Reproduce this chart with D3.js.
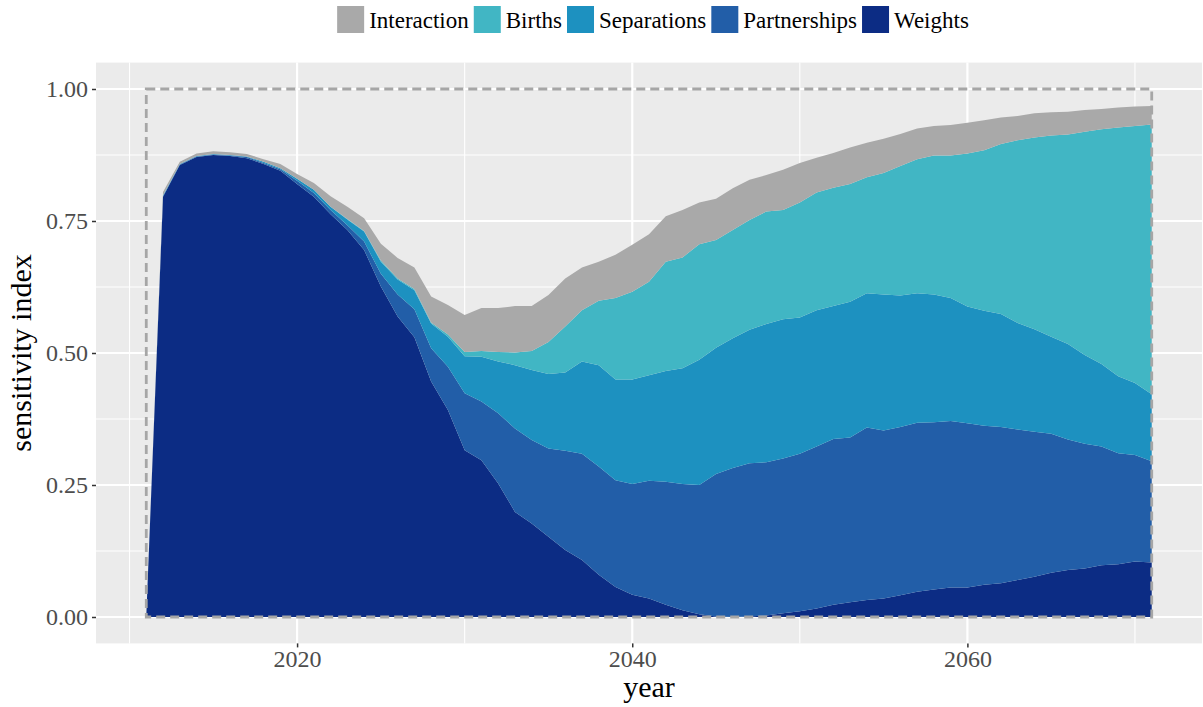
<!DOCTYPE html>
<html>
<head>
<meta charset="utf-8">
<script src="https://cdn.jsdelivr.net/npm/d3@7"></script>
<style>
  body { margin: 0; background: #fff; }
  text { font-family: "Liberation Serif", "Times New Roman", serif; }
</style>
</head>
<body>
<svg width="1203" height="707"></svg>
<script>
// years 2011..2071, one value per year and per component
const years = d3.range(2011, 2072);

const weights = [0, .796, .856, .871, .875, .873, .869, .858, .845, .820,
  .796, .763, .733, .695, .626, .569, .530, .446, .392, .316,
  .297, .253, .199, .177, .152, .127, .108, .080, .057, .042,
  .035, .023, .013, .005, .001, .000, .001, .003, .007, .011,
  .016, .023, .028, .032, .035, .041, .048, .052, .056, .056,
  .061, .064, .070, .076, .084, .089, .092, .098, .100, .105, .103];

const partnerships = [0, .001, .001, .001, .001, .001, .002, .002, .003, .006,
  .007, .008, .009, .016, .024, .042, .053, .063, .082, .108,
  .111, .133, .158, .158, .167, .188, .201, .205, .202, .210,
  .223, .233, .239, .245, .270, .282, .290, .290, .293, .298,
  .307, .314, .312, .327, .318, .319, .320, .317, .315, .311,
  .301, .296, .285, .275, .263, .247, .236, .225, .210, .202, .192];

const separations = [0, .001, .001, .001, .001, .001, .001, .002, .002, .004,
  .006, .006, .011, .019, .023, .028, .036, .047, .057, .070,
  .085, .098, .120, .133, .141, .148, .175, .192, .191, .198,
  .200, .210, .219, .237, .239, .246, .253, .262, .264, .258,
  .258, .252, .257, .254, .258, .249, .245, .242, .233, .221,
  .218, .214, .202, .194, .184, .181, .168, .156, .146, .136, .127];

const births = [0, .001, 0, 0, 0, 0, 0, 0, 0, 0,
  0, 0, .001, .001, .002, .002, .002, .002, .004, .008,
  .011, .018, .024, .036, .061, .087, .097, .122, .154, .166,
  .177, .207, .210, .219, .204, .205, .208, .213, .207, .218,
  .223, .224, .223, .220, .230, .245, .254, .263, .270, .290,
  .304, .322, .346, .363, .381, .397, .423, .445, .471, .487, .511];

const interaction = [0, .006, .004, .005, .005, .005, .005, .005, .008, .009,
  .013, .020, .023, .024, .032, .039, .041, .049, .056, .070,
  .081, .083, .088, .085, .089, .091, .081, .074, .082, .089,
  .090, .086, .090, .079, .078, .079, .076, .069, .076, .075,
  .066, .066, .069, .065, .065, .061, .058, .056, .058, .058,
  .057, .050, .046, .046, .044, .043, .041, .038, .038, .037, .035];

const legendLabels = ["Interaction", "Births", "Separations", "Partnerships", "Weights"];
const colors = ["#A9A9A9", "#41B6C4", "#1D91C0", "#225EA8", "#0C2C84"];
const yTicks = [0, 0.25, 0.5, 0.75, 1];
const xTicks = [2020, 2040, 2060];

// table for d3.stack (bottom layer first)
const table = years.map((yr, i) => ({
  year: yr,
  Weights: weights[i],
  Partnerships: partnerships[i],
  Separations: separations[i],
  Births: births[i],
  Interaction: interaction[i]
}));

const svg = d3.select("svg");
const width = +svg.attr("width");

const margin = { top: 62.6, right: 1, bottom: 63.6, left: 96 };
const innerRight = width - margin.right;
const innerBottom = 707 - margin.bottom;

const x = d3.scaleLinear().domain([2008, 2074]).range([margin.left, innerRight]);
const y = d3.scaleLinear().domain([-0.05, 1.05]).range([innerBottom, margin.top]);

// panel
svg.append("rect")
  .attr("x", margin.left).attr("y", margin.top)
  .attr("width", innerRight - margin.left).attr("height", innerBottom - margin.top)
  .attr("fill", "#EBEBEB");

const grid = svg.append("g");
// minor grid
[2010, 2030, 2050, 2070].forEach(v => {
  grid.append("line").attr("x1", x(v)).attr("x2", x(v))
    .attr("y1", margin.top).attr("y2", innerBottom)
    .attr("stroke", "#fff").attr("stroke-width", 1.1);
});
[0.125, 0.375, 0.625, 0.875].forEach(v => {
  grid.append("line").attr("y1", y(v)).attr("y2", y(v))
    .attr("x1", margin.left).attr("x2", innerRight)
    .attr("stroke", "#fff").attr("stroke-width", 1.1);
});
// major grid
xTicks.forEach(v => {
  grid.append("line").attr("x1", x(v)).attr("x2", x(v))
    .attr("y1", margin.top).attr("y2", innerBottom)
    .attr("stroke", "#fff").attr("stroke-width", 2.2);
});
yTicks.forEach(v => {
  grid.append("line").attr("y1", y(v)).attr("y2", y(v))
    .attr("x1", margin.left).attr("x2", innerRight)
    .attr("stroke", "#fff").attr("stroke-width", 2.2);
});

// stacked areas
const stackKeys = ["Weights", "Partnerships", "Separations", "Births", "Interaction"];
const series = d3.stack().keys(stackKeys)(table);
const color = d3.scaleOrdinal().domain(legendLabels).range(colors);

const area = d3.area()
  .x(d => x(d.data.year))
  .y0(d => y(d[0]))
  .y1(d => y(d[1]));

svg.append("g")
  .selectAll("path")
  .data(series)
  .enter()
  .append("path")
  .attr("d", area)
  .attr("fill", d => color(d.key));

// dashed box 2011-2071 x 0-1
svg.append("rect")
  .attr("x", x(2011)).attr("y", y(1))
  .attr("width", x(2071) - x(2011)).attr("height", y(0) - y(1))
  .attr("fill", "none")
  .attr("stroke", "#A6A6A6")
  .attr("stroke-width", 2.8)
  .attr("stroke-dasharray", "9,5");

// axes
const yAxis = d3.axisLeft(y).tickValues(yTicks).tickFormat(d3.format(".2f")).tickSize(4).tickPadding(4);
const xAxis = d3.axisBottom(x).tickValues(xTicks).tickFormat(d3.format("d")).tickSize(4).tickPadding(3);

const gy = svg.append("g").attr("transform", `translate(${margin.left},0)`).call(yAxis);
const gx = svg.append("g").attr("transform", `translate(0,${innerBottom})`).call(xAxis);

[gx, gy].forEach(g => {
  g.select(".domain").remove();
  g.selectAll(".tick line").attr("stroke", "#333").attr("stroke-width", 1.5);
  g.selectAll(".tick text")
    .attr("fill", "#4D4D4D")
    .style("font-family", "'Liberation Serif', serif")
    .style("font-size", "24px");
});

// axis titles
svg.append("text")
  .attr("x", (margin.left + innerRight) / 2)
  .attr("y", 697)
  .attr("text-anchor", "middle")
  .style("font-size", "30px")
  .text("year");

svg.append("text")
  .attr("transform", `translate(31,${(margin.top + innerBottom) / 2}) rotate(-90)`)
  .attr("text-anchor", "middle")
  .style("font-size", "30px")
  .text("sensitivity index");

// legend on top
const legend = svg.append("g");
const keySize = 27;
let pos = 0;
legendLabels.forEach(lab => {
  const item = legend.append("g");
  item.append("rect").attr("width", keySize).attr("height", keySize).attr("fill", color(lab));
  const t = item.append("text")
    .attr("x", keySize + 5)
    .attr("y", keySize / 2 + 8)
    .style("font-size", "23px")
    .attr("fill", "#000")
    .text(lab);
  const w = keySize + 5 + t.node().getComputedTextLength();
  item.attr("transform", `translate(${pos},6)`);
  pos += w + 5;
});
const legendWidth = pos - 5;
legend.attr("transform", `translate(${653 - legendWidth / 2},0)`);
</script>
</body>
</html>
